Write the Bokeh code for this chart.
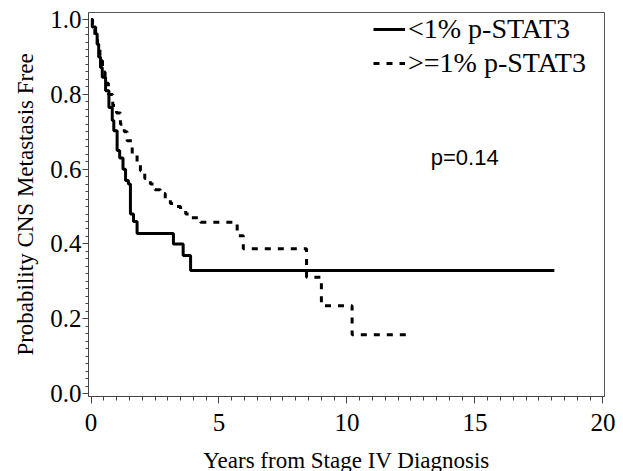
from bokeh.plotting import figure
from bokeh.models import FixedTicker, Legend, LegendItem, Label, Range1d, PrintfTickFormatter
from bokeh.embed import file_html
from bokeh.resources import INLINE

# ---- data ----
low_label = "<1% p-STAT3"
low_t = [0, 0.05, 0.18, 0.24, 0.30, 0.37, 0.44, 0.57, 0.70, 0.83, 0.89, 1.02, 1.12, 1.25,
         1.35, 1.46, 1.54, 1.66, 1.80, 3.22, 3.60, 3.89, 18.1]
low_s = [1.0, 0.98, 0.962, 0.935, 0.90, 0.872, 0.846, 0.81, 0.765, 0.73, 0.703, 0.65, 0.63, 0.60,
         0.57, 0.56, 0.48, 0.46, 0.428, 0.400, 0.369, 0.329, 0.329]

high_label = ">=1% p-STAT3"
high_t = [0, 0.06, 0.15, 0.25, 0.35, 0.45, 0.55, 0.68, 0.85, 1.0, 1.15, 1.3, 1.41, 1.61, 1.8,
          1.93, 2.1, 2.32, 2.5, 2.71, 2.9, 3.1, 3.3, 3.5, 3.7, 3.89, 4.28, 5.71, 5.95, 8.42,
          9.0, 10.2, 12.3]
high_s = [1.0, 0.975, 0.95, 0.92, 0.89, 0.86, 0.83, 0.80, 0.77, 0.75, 0.72, 0.70, 0.676, 0.64,
          0.615, 0.596, 0.575, 0.56, 0.545, 0.535, 0.52, 0.508, 0.50, 0.49, 0.48, 0.47, 0.458,
          0.422, 0.387, 0.311, 0.235, 0.157, 0.157]

x_ticks = [0, 5, 10, 15, 20]
y_ticks = [0.0, 0.2, 0.4, 0.6, 0.8, 1.0]
x_minor = [i * 0.5 for i in range(41)]
y_minor = [i * 0.02 for i in range(51)]

p_value_text = "p=0.14"
p_value_x, p_value_y = 14.6, 0.631

x_title = "Years from Stage IV Diagnosis"
y_title = "Probability CNS Metastasis Free"

SERIF = "Liberation Serif"

p = figure(frame_width=516, frame_height=384,
           x_range=Range1d(-0.098, 20.06), y_range=Range1d(-0.008, 1.019),
           output_backend="svg", toolbar_location=None,
           min_border_left=88, min_border_right=11, min_border_top=12, min_border_bottom=74)
p.grid.visible = False
p.outline_line_color = "#555555"
p.outline_line_width = 1
p.background_fill_color = "white"
p.border_fill_color = "white"

r_low = p.step(low_t, low_s, mode="after", line_color="black", line_width=3)
r_high = p.step(high_t, high_s, mode="after", line_color="black", line_width=3,
                line_dash="6 7")

# axes
xa = p.xaxis[0]
xa.ticker = FixedTicker(ticks=x_ticks, minor_ticks=x_minor)
xa.axis_line_color = "#444444"
xa.major_tick_line_color = "#444444"
xa.minor_tick_line_color = "#444444"
xa.major_tick_in = 0
xa.major_tick_out = 7
xa.minor_tick_in = 0
xa.minor_tick_out = 4
xa.major_label_text_font = SERIF
xa.major_label_text_font_size = "25px"
xa.major_label_text_color = "black"
xa.major_label_standoff = 10
xa.axis_label = x_title
xa.axis_label_text_font = SERIF
xa.axis_label_text_font_size = "23px"
xa.axis_label_text_font_style = "normal"
xa.axis_label_text_color = "black"
xa.axis_label_standoff = 14

ya = p.yaxis[0]
ya.ticker = FixedTicker(ticks=y_ticks, minor_ticks=y_minor)
ya.formatter = PrintfTickFormatter(format="%.1f")
ya.axis_line_color = "#444444"
ya.major_tick_line_color = "#444444"
ya.minor_tick_line_color = "#444444"
ya.major_tick_in = 0
ya.major_tick_out = 6
ya.minor_tick_in = 0
ya.minor_tick_out = 3
ya.major_label_text_font = SERIF
ya.major_label_text_font_size = "25px"
ya.major_label_text_color = "black"
ya.major_label_standoff = 1
ya.axis_label = y_title
ya.axis_label_text_font = SERIF
ya.axis_label_text_font_size = "23px"
ya.axis_label_text_font_style = "normal"
ya.axis_label_text_color = "black"
ya.axis_label_standoff = 9

legend = Legend(items=[LegendItem(label=low_label, renderers=[r_low]),
                       LegendItem(label=high_label, renderers=[r_high])],
                location=(280, 312))
legend.label_text_font = SERIF
legend.label_text_font_size = "28px"
legend.label_text_color = "black"
legend.glyph_width = 32
legend.glyph_height = 30
legend.label_height = 30
legend.label_standoff = 3
legend.spacing = 2
legend.padding = 5
legend.margin = 0
legend.border_line_alpha = 0
legend.background_fill_alpha = 0
p.add_layout(legend)

p.add_layout(Label(x=p_value_x, y=p_value_y, text=p_value_text, text_align="center",
                   text_baseline="middle", text_font="Liberation Sans",
                   text_font_size="22px", text_color="black"))

open("out.html", "w").write(file_html(p, INLINE))
